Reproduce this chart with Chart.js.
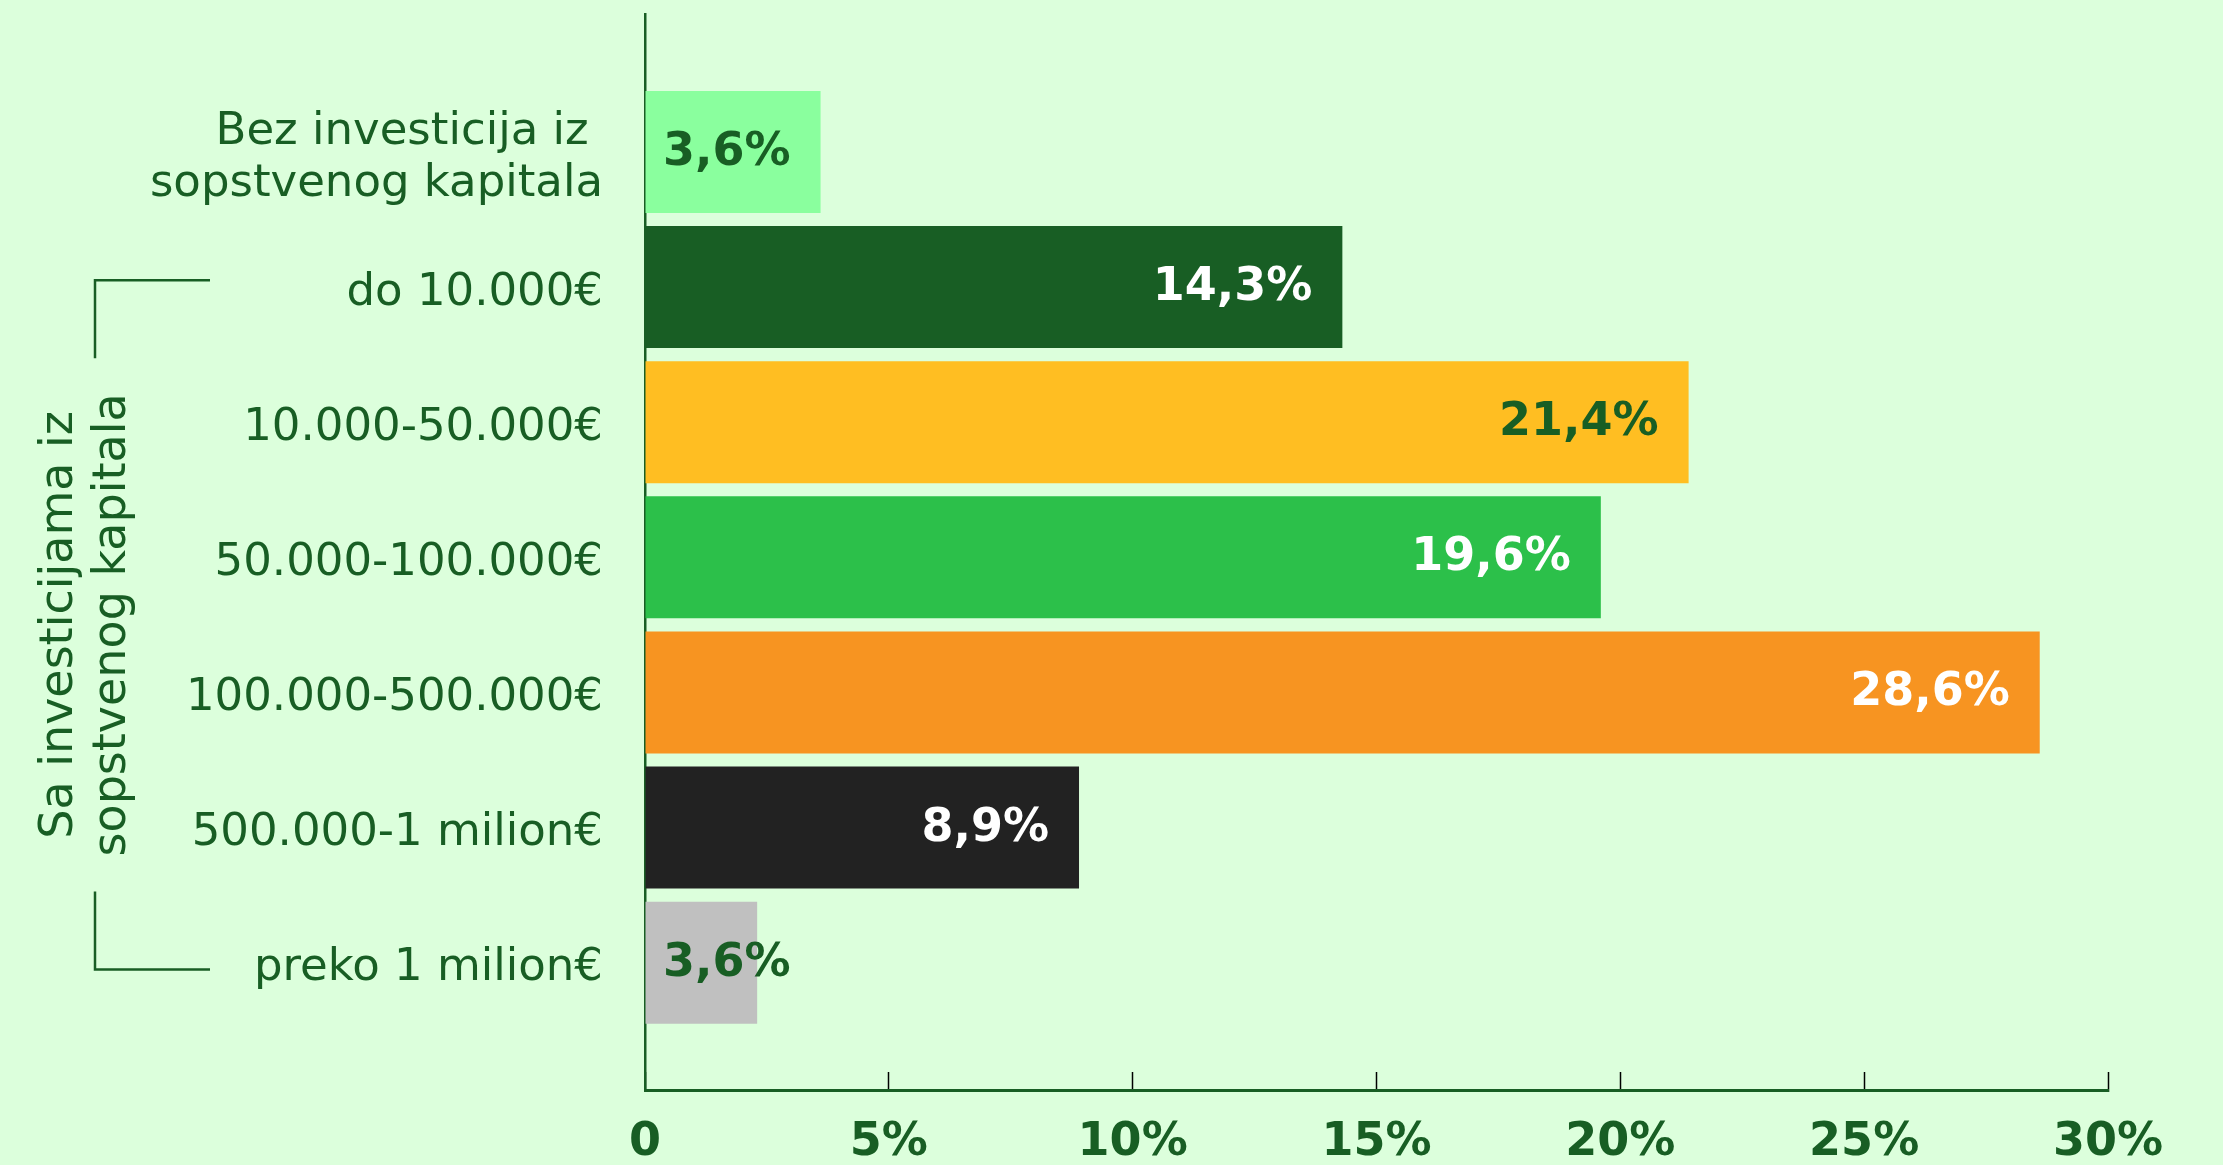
<!DOCTYPE html>
<html>
<head>
<meta charset="utf-8">
<script src="https://cdn.jsdelivr.net/npm/chart.js@4/dist/chart.umd.min.js"></script>
<style>
  body { margin: 0; background: #dcffdc; }
  #wrap { width: 2223px; height: 1165px; }
</style>
</head>
<body>
<div id="wrap"><canvas id="myChart"></canvas></div>
<script>
// categories and values
var categories = [
    ["Bez investicija iz ", "sopstvenog kapitala"],
    "do 10.000€",
    "10.000-50.000€",
    "50.000-100.000€",
    "100.000-500.000€",
    "500.000-1 milion€",
    "preko 1 milion€"
]
// bar lengths as drawn in the picture (last bar is drawn shorter than its label)
var barValues = [3.6, 14.3, 21.4, 19.6, 28.6, 8.9, 2.3]
var labelValues = [3.6, 14.3, 21.4, 19.6, 28.6, 8.9, 3.6]
var barColors = ["#8aff9e", "#185e24", "#ffbe22", "#2cc04a", "#f79421", "#222222", "#c0c0c0"]
var labelColors = ["#185e24", "#ffffff", "#185e24", "#ffffff", "#ffffff", "#ffffff", "#185e24"]
var xTicks = [0, 5, 10, 15, 20, 25, 30]
var groupTitle = ["Sa investicijama iz", "sopstvenog kapitala"]

var green = "#185e24"
var font = "'DejaVu Sans', sans-serif"

var barLabels = {
    id: "barLabels",
    afterDatasetsDraw(chart) {
        let ctx = chart.ctx
        let xs = chart.scales.x
        let meta = chart.getDatasetMeta(0)
        ctx.save()
        ctx.font = "bold 46px " + font
        ctx.textAlign = "right"
        ctx.textBaseline = "middle"
        meta.data.forEach((bar, i) => {
            ctx.fillStyle = labelColors[i]
            let txt = labelValues[i].toFixed(1).replace(".", ",") + "%"
            ctx.fillText(txt, xs.getPixelForValue(labelValues[i]) - 30, bar.y + 1)
        })
        ctx.restore()
    }
}

var groupBracket = {
    id: "groupBracket",
    afterDraw(chart) {
        let ctx = chart.ctx
        let ys = chart.scales.y
        let top = ys.getPixelForValue(0.95)
        let bottom = ys.getPixelForValue(6.05)
        let mid = (top + bottom) / 2
        ctx.save()
        ctx.font = "46px " + font
        let half = Math.max(...groupTitle.map(t => ctx.measureText(t).width)) / 2
        ctx.strokeStyle = green
        ctx.lineWidth = 2.5
        ctx.beginPath()
        ctx.moveTo(210, top); ctx.lineTo(95, top); ctx.lineTo(95, mid - half - 35)
        ctx.moveTo(95, mid + half + 35); ctx.lineTo(95, bottom); ctx.lineTo(210, bottom)
        ctx.stroke()
        ctx.fillStyle = green
        ctx.textAlign = "center"
        ctx.textBaseline = "middle"
        let xs = [60, 113]
        groupTitle.forEach((t, i) => {
            ctx.save()
            ctx.translate(xs[i], mid)
            ctx.rotate(-Math.PI / 2)
            ctx.fillText(t, 0, 0)
            ctx.restore()
        })
        ctx.restore()
    }
}

new Chart("myChart", {
    type: "bar",
    data: {
        datasets: [{
            data: barValues.map((v, i) => ({ x: v, y: i })),
            backgroundColor: barColors,
            borderWidth: 0,
            barPercentage: 0.903,
            categoryPercentage: 1
        }]
    },
    plugins: [barLabels, groupBracket],
    options: {
        indexAxis: "y",
        responsive: true,
        maintainAspectRatio: false,
        animation: false,
        layout: { padding: { top: 14, right: 115, left: 0, bottom: 0 } },
        plugins: {
            legend: { display: false },
            tooltip: { enabled: false }
        },
        scales: {
            x: {
                type: "linear",
                min: 0,
                max: 30,
                afterBuildTicks: (s) => { s.ticks = xTicks.map(v => ({ value: v })) },
                afterFit: (s) => { s.height = 75; s.paddingLeft = 0; s.paddingRight = 0 },
                grid: {
                    drawOnChartArea: false,
                    drawTicks: true,
                    tickLength: -18,
                    tickColor: "#000",
                    tickWidth: 1.5
                },
                border: { display: true, color: green, width: 3 },
                ticks: {
                    padding: 43,
                    color: green,
                    font: { family: font, size: 46, weight: "bold" },
                    callback: (v) => v === 0 ? "0" : v + "%"
                }
            },
            y: {
                type: "linear",
                reverse: true,
                offset: false,
                min: -1.021,
                max: 6.942,
                afterBuildTicks: (s) => { s.ticks = categories.map((c, i) => ({ value: i })) },
                afterFit: (s) => { s.width = 645; s.paddingTop = 0; s.paddingBottom = 0 },
                grid: { display: false, drawTicks: false },
                border: { display: true, color: green, width: 2.5 },
                ticks: {
                    padding: 42,
                    labelOffset: 6,
                    color: green,
                    font: { family: font, size: 45, lineHeight: 1.16 },
                    callback: (v) => categories[v]
                }
            }
        }
    }
});
</script>
</body>
</html>
